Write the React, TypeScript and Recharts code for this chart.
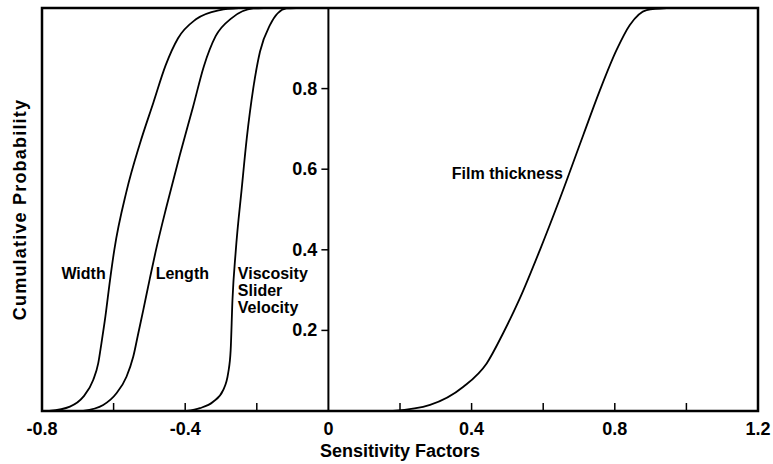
import React from "react"
import {
  LineChart,
  Line,
  XAxis,
  YAxis,
  ReferenceLine,
  ReferenceArea,
  ReferenceDot,
} from "recharts"

// values
const widthX = [-0.78, -0.722, -0.685, -0.657, -0.643, -0.634, -0.623, -0.61, -0.598, -0.564, -0.527, -0.489, -0.455, -0.42, -0.37, -0.303, -0.25]
const widthY = [0, 0.011, 0.035, 0.077, 0.118, 0.168, 0.234, 0.325, 0.4, 0.545, 0.662, 0.765, 0.857, 0.925, 0.972, 0.995, 1]

const lengthX = [-0.685, -0.629, -0.592, -0.564, -0.545, -0.531, -0.517, -0.499, -0.482, -0.452, -0.415, -0.378, -0.348, -0.315, -0.27, -0.21, -0.18]
const lengthY = [0, 0.015, 0.044, 0.085, 0.135, 0.193, 0.251, 0.328, 0.398, 0.508, 0.635, 0.755, 0.855, 0.93, 0.975, 0.999, 1]

const viscX = [-0.396, -0.359, -0.322, -0.294, -0.28, -0.273, -0.268, -0.259, -0.242, -0.228, -0.21, -0.191, -0.163, -0.117, -0.09]
const viscY = [0, 0.007, 0.023, 0.052, 0.094, 0.151, 0.275, 0.395, 0.553, 0.677, 0.8, 0.892, 0.958, 0.999, 1]

const filmX = [0.18, 0.284, 0.377, 0.442, 0.488, 0.535, 0.591, 0.647, 0.712, 0.758, 0.805, 0.842, 0.889, 0.945]
const filmY = [0, 0.015, 0.06, 0.118, 0.193, 0.28, 0.4, 0.528, 0.685, 0.795, 0.896, 0.958, 0.995, 1]

const xTicks = [-0.8, -0.6, -0.4, -0.2, 0, 0.2, 0.4, 0.6, 0.8, 1.0, 1.2]
const xTickLabels = ["-0.8", "", "-0.4", "", "0", "", "0.4", "", "0.8", "", "1.2"]
const yTicks = [0.2, 0.4, 0.6, 0.8]
const yTickLabels = ["0.2", "0.4", "0.6", "0.8"]

const FONT = "'Liberation Sans', Arial, Helvetica, sans-serif"

const toPoints = (xs: number[], ys: number[]) => xs.map((x, i) => ({ x, y: ys[i] }))

const series = [
  { name: "Width", data: toPoints(widthX, widthY) },
  { name: "Length", data: toPoints(lengthX, lengthY) },
  { name: "Viscosity", data: toPoints(viscX, viscY) },
  { name: "Film thickness", data: toPoints(filmX, filmY) },
]

// curve labels, placed in data coordinates
const notes = [
  { lines: ["Width"], x: -0.684, y: 0.342, anchor: "middle" },
  { lines: ["Length"], x: -0.408, y: 0.342, anchor: "middle" },
  { lines: ["Viscosity", "Slider", "Velocity"], x: -0.253, y: 0.342, anchor: "start" },
  { lines: ["Film thickness"], x: 0.5, y: 0.591, anchor: "middle" },
]

function XTick(props: any) {
  const { x, y, payload, index } = props
  const v = payload.value
  const inner = v > -0.8 && v < 1.2 && v !== 0
  return (
    <g>
      {inner && <line x1={x} x2={x} y1={y} y2={y - 8} stroke="#000" strokeWidth={1.5} />}
      <text x={x} y={y + 24} textAnchor="middle" fontFamily={FONT} fontWeight="bold" fontSize={18} fill="#000">
        {xTickLabels[index]}
      </text>
    </g>
  )
}

function AxisTitle(props: any) {
  const { viewBox, kind } = props
  if (kind === "x") {
    return (
      <text
        x={viewBox.x + viewBox.width / 2}
        y={457}
        textAnchor="middle"
        fontFamily={FONT}
        fontWeight="bold"
        fontSize={18}
        fill="#000"
      >
        Sensitivity Factors
      </text>
    )
  }
  const cx = viewBox.x + 20
  const cy = viewBox.y + viewBox.height / 2
  return (
    <text
      x={cx}
      y={cy}
      transform={`rotate(-90 ${cx} ${cy})`}
      textAnchor="middle"
      dominantBaseline="central"
      fontFamily={FONT}
      fontWeight="bold"
      fontSize={18}
      letterSpacing={1.2}
      fill="#000"
    >
      Cumulative Probability
    </text>
  )
}

export default function App() {
  return (
    <div style={{ position: "absolute", left: 0, top: 0, background: "#fff" }}>
      <LineChart width={773} height={464} margin={{ top: 8, right: 15, left: 0, bottom: 0 }}>
        <XAxis
          type="number"
          dataKey="x"
          domain={[-0.8, 1.2]}
          ticks={xTicks}
          allowDataOverflow
          axisLine={false}
          tickLine={false}
          tickSize={0}
          tickMargin={0}
          interval={0}
          height={53}
          tick={<XTick />}
          label={<AxisTitle kind="x" />}
        />
        <YAxis
          type="number"
          dataKey="y"
          domain={[0, 1]}
          width={42}
          axisLine={false}
          tickLine={false}
          tick={false}
          label={<AxisTitle kind="y" />}
        />
        <ReferenceArea x1={-0.8} x2={1.2} y1={0} y2={1} fill="none" stroke="#000" strokeWidth={2.5} />
        <ReferenceLine x={0} stroke="#000" strokeWidth={2} />
        {yTicks.map((v, i) => (
          <ReferenceDot
            key={v}
            x={0}
            y={v}
            shape={(p: any) => (
              <g>
                <line x1={p.cx - 7} x2={p.cx} y1={p.cy} y2={p.cy} stroke="#000" strokeWidth={1.5} />
                <text
                  x={p.cx - 11}
                  y={p.cy}
                  textAnchor="end"
                  dominantBaseline="central"
                  fontFamily={FONT}
                  fontWeight="bold"
                  fontSize={18}
                  fill="#000"
                >
                  {yTickLabels[i]}
                </text>
              </g>
            )}
          />
        ))}
        {series.map((s) => (
          <Line
            key={s.name}
            data={s.data}
            dataKey="y"
            type="monotone"
            stroke="#000"
            strokeWidth={1.8}
            dot={false}
            isAnimationActive={false}
          />
        ))}
        {notes.map((n) => (
          <ReferenceDot
            key={n.lines[0]}
            x={n.x}
            y={n.y}
            shape={(p: any) => (
              <text
                x={p.cx}
                y={p.cy}
                textAnchor={n.anchor}
                dominantBaseline="central"
                fontFamily={FONT}
                fontWeight="bold"
                fontSize={16}
                fill="#000"
              >
                {n.lines.map((t, i) => (
                  <tspan key={t} x={p.cx} dy={i === 0 ? 0 : 17}>
                    {t}
                  </tspan>
                ))}
              </text>
            )}
          />
        ))}
      </LineChart>
    </div>
  )
}
